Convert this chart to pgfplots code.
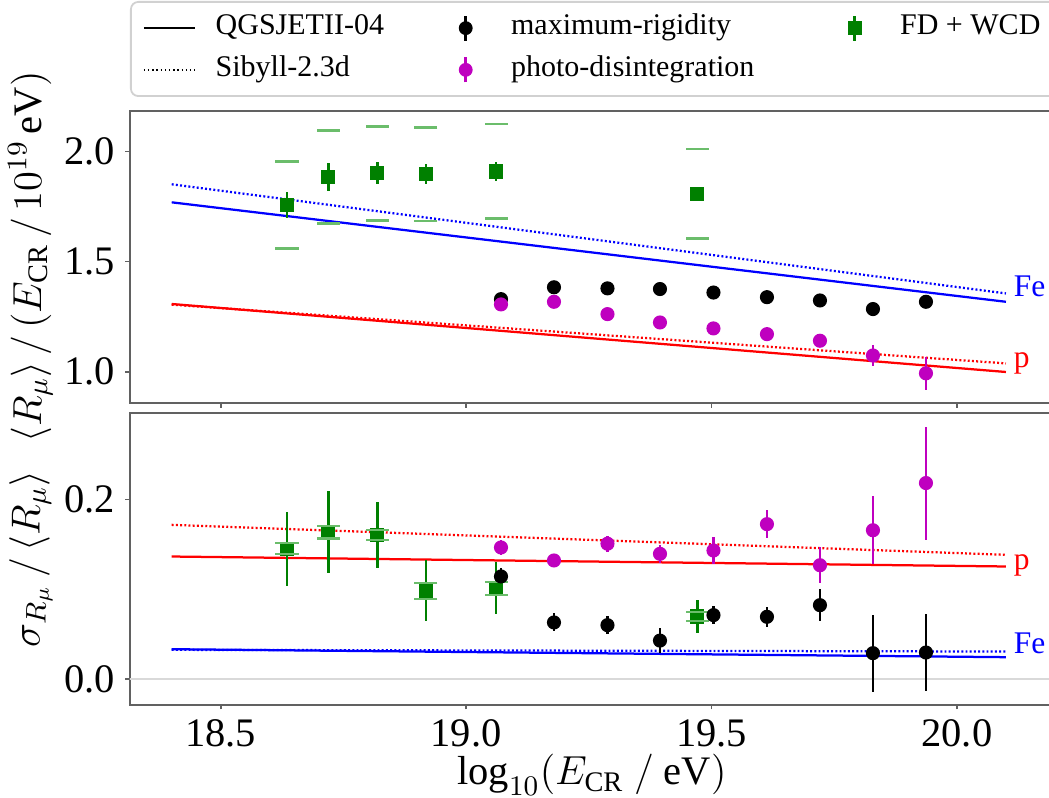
\documentclass[border=0pt]{standalone}
\usepackage{fix-cm}
\usepackage{fontspec}
\setmainfont{Liberation Serif}
\usepackage{pgfplots}
\usepackage{pgfplotstable}
\pgfplotsset{compat=1.18}

\definecolor{mplgreen}{rgb}{0,0.5,0}
\definecolor{mplmag}{rgb}{0.75,0,0.75}
\definecolor{sysgreen}{rgb}{0.42,0.74,0.42}
\definecolor{framegray}{rgb}{0.38,0.38,0.38}

% ---------------- data ----------------
\pgfplotstableread{
x y e up lo
18.635 1.758 0.058 1.955 1.561
18.719 1.886 0.064 2.097 1.673
18.819 1.902 0.050 2.114 1.687
18.918 1.899 0.045 2.110 1.685
19.061 1.910 0.043 2.126 1.697
19.471 1.808 0.010 2.011 1.606
}\fdtop
\pgfplotstableread{
x y e
19.071 1.330 0.010
19.179 1.384 0.010
19.288 1.379 0.010
19.395 1.376 0.010
19.504 1.360 0.010
19.613 1.339 0.010
19.721 1.324 0.012
19.829 1.285 0.015
19.937 1.318 0.020
}\mrtop
\pgfplotstableread{
x y e
19.071 1.306 0.010
19.179 1.318 0.010
19.288 1.262 0.010
19.395 1.224 0.010
19.504 1.197 0.010
19.613 1.171 0.010
19.721 1.141 0.012
19.829 1.074 0.048
19.937 0.993 0.075
}\pdtop
\pgfplotstableread{
x feq fes pq ps
18.4 1.770 1.852 1.308 1.305
20.1 1.318 1.356 0.999 1.038
}\modtop
\pgfplotstableread{
x y e up lo
18.635 0.1453 0.041 0.1517 0.1394
18.719 0.1640 0.046 0.1710 0.1570
18.819 0.1610 0.037 0.1665 0.1550
18.918 0.0985 0.034 0.1070 0.0896
19.061 0.1015 0.029 0.1080 0.0940
19.471 0.0698 0.018 0.0750 0.0650
}\fdbot
\pgfplotstableread{
x y e
19.071 0.1145 0.009
19.179 0.0632 0.010
19.288 0.0602 0.010
19.395 0.0430 0.014
19.504 0.0714 0.010
19.613 0.0695 0.011
19.721 0.0825 0.018
19.829 0.0290 0.043
19.937 0.0297 0.043
}\mrbot
\pgfplotstableread{
x y e
19.071 0.1468 0.008
19.179 0.1323 0.005
19.288 0.1510 0.009
19.395 0.1397 0.010
19.504 0.1434 0.015
19.613 0.1728 0.016
19.721 0.1270 0.020
19.829 0.1660 0.038
19.937 0.2186 0.063
}\pdbot
\pgfplotstableread{
x feq fes pq ps
18.4 0.0334 0.0327 0.1367 0.1720
20.1 0.0245 0.0308 0.1256 0.1386
}\modbot

\pgfplotsset{
  panel/.style={
    scale only axis, width=308pt, xmin=18.315, xmax=20.198,
    axis line style={framegray, line width=0.55pt},
    tick style={framegray, line width=0.5pt},
    tick align=outside, major tick length=1.5pt,
    xtick pos=bottom, ytick pos=left,
    xtick={18.5,19,19.5,20}, minor tick num=0,
    tick label style={font=\fontsize{13.5}{15}\selectfont},
    label style={font=\fontsize{13.5}{15}\selectfont},
    ylabel shift=-3pt,
    /pgf/number format/fixed,
    /pgf/number format/fixed zerofill,
    /pgf/number format/precision=1,
    /pgf/number format/assume math mode=true,
  },
  qgs/.style={line width=0.75pt, forget plot},
  sib/.style={line width=0.75pt, dash pattern=on 0.65pt off 0.75pt, forget plot},
  errpts/.style={only marks, forget plot, mark size=2.15pt,
    mark options={solid, fill=#1, draw=#1}, color=#1,
    error bars/y dir=both, error bars/y explicit, error bars/error mark=none,
    error bars/error bar style={line width=0.85pt, color=#1}},
  syscap/.style={only marks, forget plot, mark=-, mark size=3.85pt,
    mark options={line width=0.8pt, draw=sysgreen}, color=sysgreen},
}

\begin{document}
\begin{tikzpicture}

% ---------------- top panel ----------------
\begin{axis}[panel, name=top, at={(0pt,100.63pt)}, anchor=south west,
  height=97.33pt, ymin=0.858, ymax=2.185, ytick={1,1.5,2},
  xticklabels={},
  ylabel={$\langle R_\mu\rangle\,/\,(E_\mathrm{CR}\,/\,10^{19}\,\mathrm{eV})$},
  legend columns=3, legend cell align=left,
  legend style={at={(0,1)}, anchor=south west, yshift=4.67pt,
    draw=black!18, rounded corners=2.5pt, line width=0.6pt, fill=white,
    inner xsep=4pt, inner ysep=4.1pt, font=\fontsize{10}{12}\selectfont,
    nodes={inner xsep=2pt, inner ysep=0pt, text height=6.5pt, text depth=2pt},
    row sep=4.6pt, /tikz/column sep=0pt,
    /tikz/every odd column/.append style={column sep=4.6pt}},
]
\addlegendimage{black, line width=0.6pt, sharp corners}
\addlegendentry{\makebox[72.8pt][l]{QGSJETII-04}}
\addlegendimage{black, legend image code/.code={
  \path[draw=none] (0cm,0cm) -- (0.6cm,0cm);
  \draw[black, line width=0.9pt, sharp corners] (0.3cm,-4.2pt) -- (0.3cm,4.2pt);
  \fill[black] (0.3cm,0cm) circle (2pt);}}
\addlegendentry{\makebox[104pt][l]{maximum-rigidity}}
\addlegendimage{mplgreen, legend image code/.code={
  \path[draw=none] (0cm,0cm) -- (0.6cm,0cm);
  \draw[mplgreen, line width=0.9pt, sharp corners] (0.3cm,-4.2pt) -- (0.3cm,4.2pt);
  \fill[mplgreen, sharp corners] (0.3cm,0cm) ++(-2pt,-2pt) rectangle ++(4pt,4pt);}}
\addlegendentry{\makebox[50pt][l]{FD + WCD}}
\addlegendimage{black, line width=0.6pt, dash pattern=on 0.5pt off 0.9pt, sharp corners}
\addlegendentry{\makebox[72.8pt][l]{Sibyll-2.3d}}
\addlegendimage{mplmag, legend image code/.code={
  \path[draw=none] (0cm,0cm) -- (0.6cm,0cm);
  \draw[mplmag, line width=0.9pt, sharp corners] (0.3cm,-4.2pt) -- (0.3cm,4.2pt);
  \fill[mplmag] (0.3cm,0cm) circle (2pt);}}
\addlegendentry{\makebox[104pt][l]{photo-disintegration}}

\addplot[qgs, blue] table[x=x, y=feq] {\modtop};
\addplot[sib, blue] table[x=x, y=fes] {\modtop};
\addplot[qgs, red] table[x=x, y=pq] {\modtop};
\addplot[sib, red] table[x=x, y=ps] {\modtop};

\addplot[errpts=mplgreen, mark=square*] table[x=x, y=y, y error=e] {\fdtop};
\addplot[syscap] table[x=x, y=up] {\fdtop};
\addplot[syscap] table[x=x, y=lo] {\fdtop};
\addplot[errpts=black, mark=*] table[x=x, y=y, y error=e] {\mrtop};
\addplot[errpts=mplmag, mark=*] table[x=x, y=y, y error=e] {\pdtop};

\node[blue, anchor=base west, font=\fontsize{10.5}{12}\selectfont, inner sep=0pt] at (axis cs:20.115,1.34) {Fe};
\node[red, anchor=base west, font=\fontsize{10.5}{12}\selectfont, inner sep=0pt] at (axis cs:20.115,1.02) {p};
\end{axis}

% ---------------- bottom panel ----------------
\begin{axis}[panel, name=bot, at={(0pt,0pt)}, anchor=south west,
  height=97.4pt, ymin=-0.0287, ymax=0.297, ytick={0,0.2},
  xlabel={$\log_{10}(E_\mathrm{CR}\ /\ \mathrm{eV})$},
  xlabel shift=-4.5pt,
  ylabel={$\sigma_{R_\mu}\,/\,\langle R_\mu\rangle$},
]
\addplot[black!15, line width=0.7pt, forget plot] coordinates {(18.2,0) (20.3,0)};
\addplot[qgs, blue] table[x=x, y=feq] {\modbot};
\addplot[sib, blue] table[x=x, y=fes] {\modbot};
\addplot[qgs, red] table[x=x, y=pq] {\modbot};
\addplot[sib, red] table[x=x, y=ps] {\modbot};

\addplot[errpts=mplgreen, mark=square*] table[x=x, y=y, y error=e] {\fdbot};
\addplot[syscap] table[x=x, y=up] {\fdbot};
\addplot[syscap] table[x=x, y=lo] {\fdbot};
\addplot[errpts=black, mark=*] table[x=x, y=y, y error=e] {\mrbot};
\addplot[errpts=mplmag, mark=*] table[x=x, y=y, y error=e] {\pdbot};

\node[red, anchor=base west, font=\fontsize{10.5}{12}\selectfont, inner sep=0pt] at (axis cs:20.115,0.122) {p};
\node[blue, anchor=base west, font=\fontsize{10.5}{12}\selectfont, inner sep=0pt] at (axis cs:20.115,0.029) {Fe};
\end{axis}

\pgfresetboundingbox
\path[use as bounding box] (-43.33pt,-31pt) rectangle (306.33pt,234.96pt);
\end{tikzpicture}
\end{document}
